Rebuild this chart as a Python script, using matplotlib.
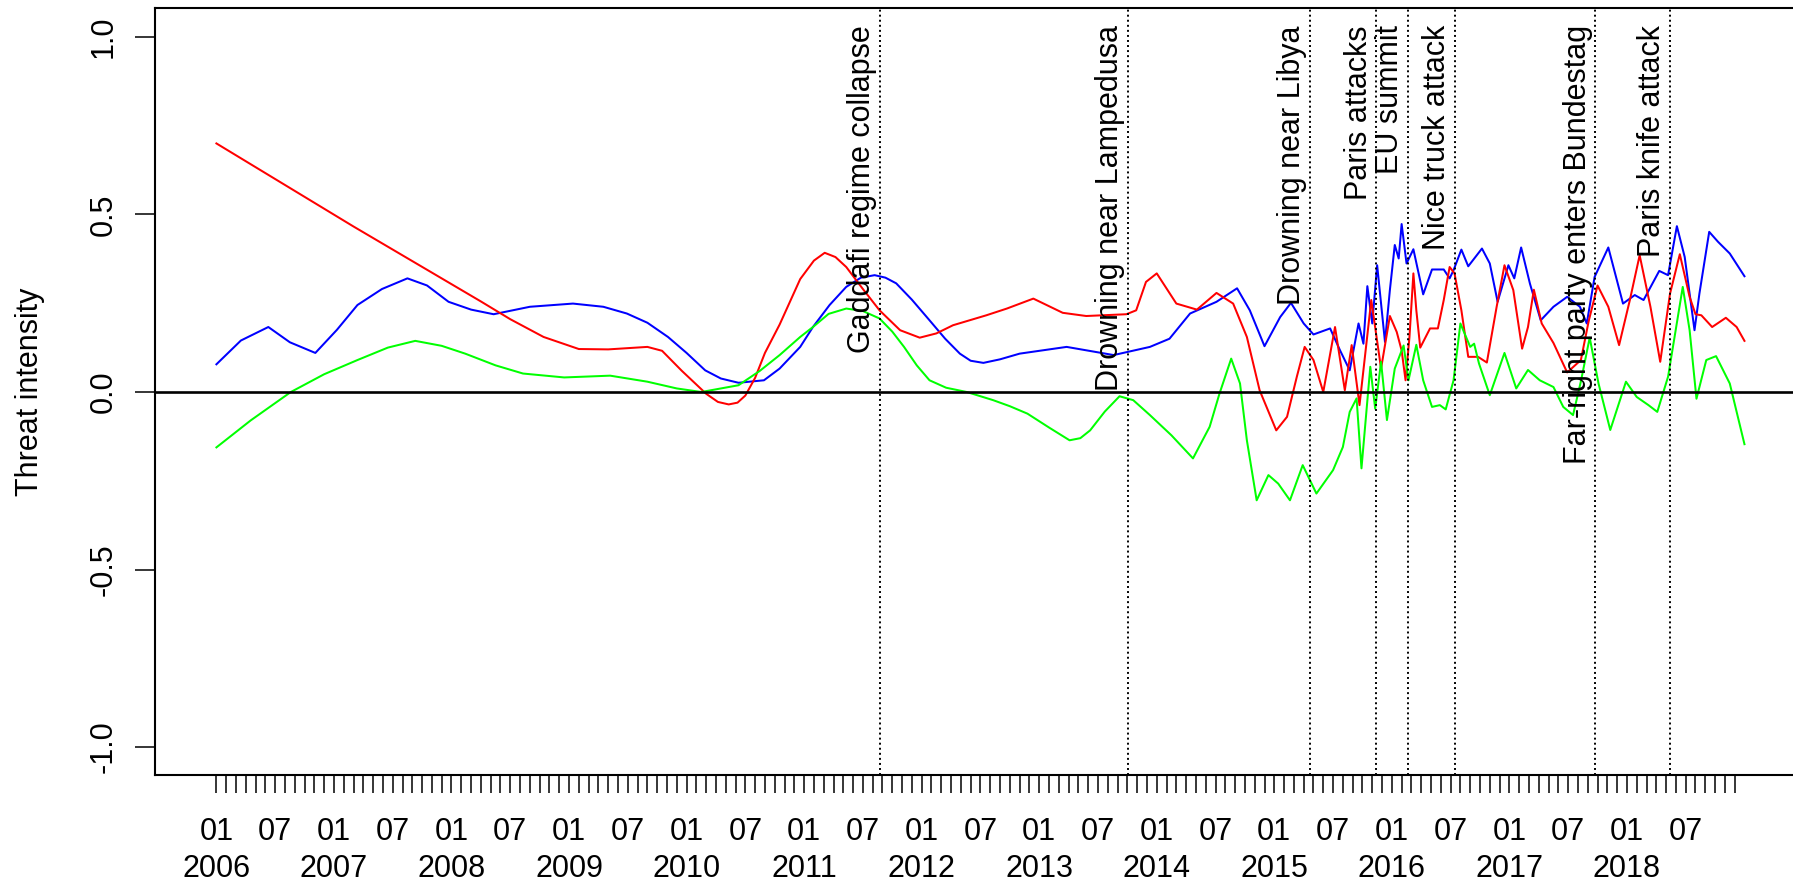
import calendar
import matplotlib
matplotlib.use("Agg")
import matplotlib.pyplot as plt
import matplotlib.transforms as mtransforms

plt.rcParams["font.family"] = ["Liberation Sans Narrow", "Liberation Sans", "DejaVu Sans"]

# x = months since January 2006 (fractional), y = threat intensity
red_t = [0, 14, 27, 30, 33.4, 37, 40, 44, 45.5, 47.5, 50, 51.2, 52.3, 53.2, 54, 55, 56,
         57.5, 59.6, 61, 62.1, 63.2, 64.3, 66, 67.7, 69.8, 71.8, 73.5, 75.2, 78.6, 80.7,
         83.4, 86.4, 88.8, 92.9, 93.9, 94.9, 96.0, 98.0, 100.1, 102.1, 103.8, 105.2,
         106.5, 108.2, 109.3, 110.3, 111.1, 112.0, 113.0, 114.2, 115.2, 115.9, 116.7,
         117.9, 118.9, 119.8, 120.5, 121.0, 121.4, 121.8, 122.2, 122.5, 122.9, 123.9,
         124.7, 125.3, 125.9, 126.4, 127.1, 127.8, 128.8, 129.7, 130.7, 131.5, 132.4,
         133.3, 133.9, 134.5, 135.3, 136.5, 137.9, 139.3, 140.1, 141.0, 142.1, 143.2,
         144.3, 145.3, 146.4, 147.4, 148.4, 149.4, 150.4, 151.0, 151.6, 152.7, 154.1,
         155.2, 156.0]
red_v = [0.70, 0.466, 0.255, 0.205, 0.155, 0.121, 0.12, 0.127, 0.116, 0.06, -0.005,
         -0.028, -0.035, -0.03, -0.01, 0.04, 0.11, 0.19, 0.318, 0.37, 0.392, 0.38, 0.352,
         0.29, 0.23, 0.174, 0.153, 0.165, 0.188, 0.216, 0.235, 0.263, 0.223, 0.214,
         0.219, 0.23, 0.31, 0.334, 0.249, 0.232, 0.279, 0.249, 0.155, 0.005, -0.108,
         -0.07, 0.043, 0.127, 0.09, 0.0, 0.183, 0.005, 0.132, -0.037, 0.259, 0.066,
         0.214, 0.169, 0.117, 0.033, 0.155, 0.334, 0.23, 0.125, 0.179, 0.179, 0.259,
         0.352, 0.334, 0.23, 0.099, 0.099, 0.083, 0.24, 0.357, 0.287, 0.122, 0.183,
         0.288, 0.193, 0.138, 0.055, 0.09, 0.2, 0.30, 0.24, 0.132, 0.259, 0.385, 0.24,
         0.085, 0.277, 0.388, 0.268, 0.219, 0.216, 0.183, 0.209, 0.183, 0.144]

blue_t = [0, 2.5, 5.3, 7.5, 10.1, 12.3, 14.4, 16.9, 19.5, 21.5, 23.7, 26, 28.3, 32,
          36.4, 39.5, 41.9, 44, 46.1, 48, 49.9, 51.5, 53.3, 55.9, 57.5, 59.6, 60.9,
          62.6, 64.3, 65.8, 67.2, 68.3, 69.4, 71, 72.8, 74.4, 75.9, 77, 78.3, 80, 82.0,
          86.8, 91.6, 95.3, 97.3, 99.4, 102.1, 104.2, 105.5, 107.0, 108.6, 109.7, 111.0,
          112.0, 113.7, 114.7, 115.7, 116.6, 117.1, 117.5, 118.0, 118.5, 119.3, 119.8,
          120.3, 120.7, 121.0, 121.5, 122.2, 123.2, 124.1, 125.3, 125.9, 126.3, 127.1,
          127.8, 129.2, 130.0, 130.8, 131.9, 132.5, 133.2, 134.1, 135.2, 136.5, 137.9,
          139.2, 139.9, 140.7, 142.1, 143.6, 144.8, 145.7, 147.3, 148.2, 149.1, 149.9,
          150.9, 151.4, 152.4, 153.3, 154.5, 156.0]
blue_v = [0.078, 0.145, 0.183, 0.14, 0.11, 0.175, 0.245, 0.29, 0.32, 0.30, 0.254, 0.232,
          0.219, 0.24, 0.249, 0.24, 0.221, 0.195, 0.155, 0.11, 0.061, 0.038, 0.026,
          0.033, 0.066, 0.127, 0.183, 0.245, 0.296, 0.322, 0.329, 0.322, 0.306, 0.26,
          0.202, 0.15, 0.108, 0.088, 0.082, 0.092, 0.108, 0.127, 0.104, 0.127, 0.15,
          0.221, 0.254, 0.292, 0.23, 0.129, 0.211, 0.251, 0.193, 0.162, 0.179, 0.118,
          0.061, 0.193, 0.136, 0.298, 0.193, 0.357, 0.141, 0.287, 0.414, 0.376, 0.473,
          0.362, 0.402, 0.275, 0.345, 0.345, 0.32, 0.343, 0.401, 0.354, 0.404, 0.362,
          0.254, 0.357, 0.32, 0.407, 0.305, 0.202, 0.24, 0.268, 0.24, 0.193, 0.324,
          0.407, 0.249, 0.273, 0.259, 0.341, 0.329, 0.467, 0.38, 0.174, 0.277, 0.451,
          0.423, 0.39, 0.326]

green_t = [0, 3.5, 7.6, 11, 14.4, 17.5, 20.3, 23, 25.4, 28.5, 31.3, 35.5, 40.2, 44.0,
           47, 49.5, 53.3, 55.5, 57.5, 59.6, 60.9, 62.5, 64.3, 66, 67.7, 69, 70.2, 71.5,
           72.8, 74.5, 76.6, 79.3, 81, 82.8, 85, 87.1, 88.2, 89.2, 90.7, 92.2, 93.6,
           95.3, 97.5, 99.7, 101.4, 102.4, 103.6, 104.5, 105.2, 106.2, 107.4, 108.4,
           109.6, 110.9, 112.3, 114.0, 115.0, 115.7, 116.4, 116.9, 117.8, 118.3, 118.9,
           119.5, 120.3, 121.2, 121.7, 122.5, 123.2, 124.1, 124.9, 125.5, 126.3, 127.0,
           128.0, 128.4, 128.9, 130.0, 131.5, 132.7, 133.9, 135.1, 136.5, 137.5, 138.5,
           139.3, 140.2, 141.1, 142.3, 143.9, 145.0, 146.2, 147.1, 148.2, 149.7, 150.4,
           151.1, 152.1, 153.1, 154.5, 156.0]
green_v = [-0.156, -0.08, 0.0, 0.05, 0.09, 0.125, 0.144, 0.13, 0.108, 0.075, 0.052,
           0.041, 0.046, 0.029, 0.01, 0.0, 0.019, 0.06, 0.104, 0.155, 0.183, 0.22, 0.235,
           0.228, 0.207, 0.17, 0.127, 0.075, 0.033, 0.012, 0.0, -0.023, -0.04, -0.061,
           -0.1, -0.136, -0.13, -0.108, -0.055, -0.012, -0.023, -0.065, -0.122, -0.187,
           -0.098, -0.005, 0.094, 0.024, -0.136, -0.305, -0.234, -0.258, -0.305, -0.206,
           -0.286, -0.22, -0.155, -0.056, -0.018, -0.215, 0.071, -0.047, 0.085, -0.079,
           0.066, 0.131, 0.033, 0.133, 0.033, -0.042, -0.037, -0.049, 0.033, 0.193,
           0.127, 0.136, 0.08, -0.009, 0.11, 0.01, 0.062, 0.033, 0.014, -0.042, -0.065,
           0.03, 0.153, 0.024, -0.107, 0.029, -0.014, -0.037, -0.056, 0.043, 0.296,
           0.174, -0.019, 0.09, 0.101, 0.024, -0.147]

event_labels = ["Gaddafi regime collapse", "Drowning near Lampedusa", "Drowning near Libya",
                "Paris attacks", "EU summit", "Nice truck attack",
                "Far-right party enters Bundestag", "Paris knife attack"]
event_dates = ["2011-08-23", "2013-10-03", "2015-04-19", "2015-11-13", "2016-02-19",
               "2016-07-14", "2017-09-24", "2018-05-12"]

y_ticks = [-1.0, -0.5, 0.0, 0.5, 1.0]
first_year = 2006
n_years = 13


def month_pos(date_str):
    y, m, d = map(int, date_str.split("-"))
    days = calendar.monthrange(y, m)[1]
    return (y - first_year) * 12 + (m - 1) + (d - 1) / days


def main():
    fs = 22
    fig = plt.figure(figsize=(17.93, 8.84), dpi=100)
    ax = fig.add_axes([0.08661, 0.12274, 0.92041, 0.86765])

    ax.plot(blue_t, blue_v, color="#0000FF", lw=1.45, zorder=3)
    ax.plot(red_t, red_v, color="#FF0000", lw=1.45, zorder=3)
    ax.plot(green_t, green_v, color="#00FF00", lw=1.45, zorder=3)
    ax.axhline(0, color="black", lw=1.9, zorder=4)

    # event markers: dotted line, label ending near the top, baseline just left of the line
    text_shift = mtransforms.offset_copy(ax.transData, fig=fig, x=-9.5, y=0, units="dots")
    for label, date in zip(event_labels, event_dates):
        x = month_pos(date)
        ax.axvline(x, color="black", lw=1.4, ls=(0, (1, 1.6)), zorder=4)
        ax.text(x, 1.033, label, rotation=90, rotation_mode="anchor", ha="right",
                va="baseline", fontsize=fs, transform=text_shift, zorder=5)

    n_months = n_years * 12
    ax.set_xlim(-0.04 * n_months, n_months * 1.04)
    ax.set_ylim(-1.08, 1.08)

    ax.set_xticks(range(n_months))
    ax.set_xticklabels([])
    ax.tick_params(axis="x", length=13, width=1.1, direction="out")

    ax.set_yticks(y_ticks)
    ax.set_yticklabels([f"{v:.1f}" for v in y_ticks], rotation=90, va="center", fontsize=fs)
    ax.tick_params(axis="y", length=14.4, width=1.1, pad=12)

    xt = ax.get_xaxis_transform()
    for k in range(n_years):
        ax.text(12 * k, -0.0737, "01", ha="center", va="center", fontsize=fs, transform=xt)
        ax.text(12 * k + 6, -0.0737, "07", ha="center", va="center", fontsize=fs, transform=xt)
        ax.text(12 * k, -0.1219, str(first_year + k), ha="center", va="center",
                fontsize=fs, transform=xt)

    for side in ["left", "right", "top", "bottom"]:
        ax.spines[side].set_linewidth(1.5)

    fig.text(0.0165, 0.5566, "Threat intensity", rotation=90, ha="center", va="center",
             fontsize=fs)

    fig.savefig("out.png", dpi=100)
    plt.close(fig)


if __name__ == "__main__":
    main()
